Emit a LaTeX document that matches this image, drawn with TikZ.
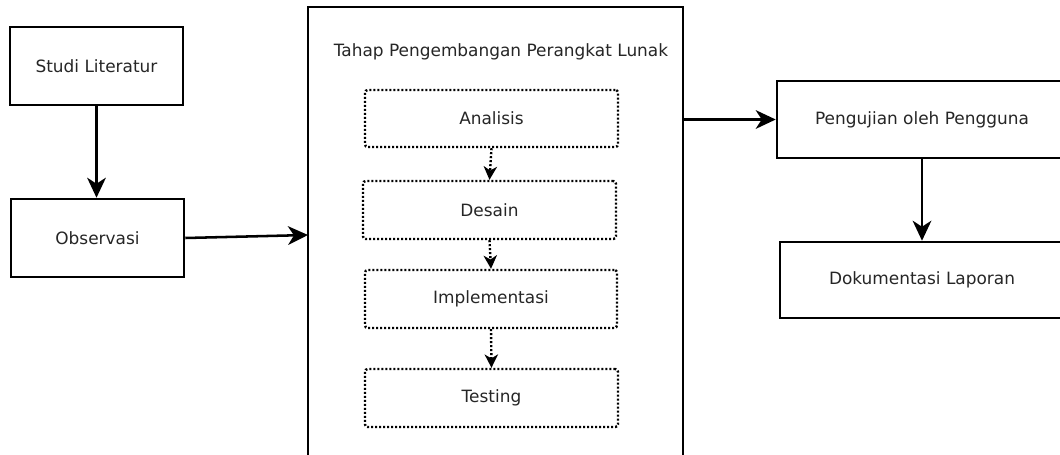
\documentclass[tikz,border=0pt]{standalone}
\usepackage{fontspec}
\setmainfont{DejaVu Sans}
\usetikzlibrary{arrows.meta}
\begin{document}
\begin{tikzpicture}[x=0.75pt,y=-0.75pt,
  lbl/.style={font=\fontsize{12.7}{15}\selectfont, text=black!85},
  box/.style={lbl, draw, line width=1.9pt, rectangle, inner sep=0pt},
  dbox/.style={lbl, draw, line width=1.8pt, dash pattern=on 1.5pt off 1.5pt, rounded corners=2pt, rectangle, inner sep=0pt},
  arr/.style={line width=1.9pt, -{Stealth[length=15pt,width=14pt,inset=4.5pt]}},
  darr/.style={line width=1.8pt, dash pattern=on 1.5pt off 1.5pt, -{Stealth[length=10pt,width=10pt,inset=3pt]}}
]
\useasboundingbox (0,0) rectangle (1060,454);
\clip (0,0) rectangle (1060,454);
\fill[white] (0,0) rectangle (1060,454);

\node[box, minimum width=129.75pt, minimum height=58.5pt] (studi) at (96.5,66) {Studi Literatur};
\node[box, minimum width=129.75pt, minimum height=58.5pt] (obs) at (97.5,238) {Observasi};

\node[box, minimum width=281.25pt, minimum height=347.25pt] (big) at (495.5,238.5) {};
\node[lbl] (title) at (501,52) {Tahap Pengembangan Perangkat Lunak};

\node[dbox, minimum width=189.75pt, minimum height=42.75pt] (ana) at (491.5,118.5) {Analisis};
\node[dbox, minimum width=189.75pt, minimum height=43.5pt] (des) at (489.5,210) {Desain};
\node[dbox, minimum width=189pt, minimum height=43.5pt] (imp) at (491,299) {Implementasi};
\node[dbox, minimum width=189.75pt, minimum height=43.5pt] (tes) at (491.5,398) {Testing};

\node[box, minimum width=217.5pt, minimum height=57.75pt] (peng) at (922,119.5) {Pengujian oleh Pengguna};
\node[box, minimum width=213pt, minimum height=57pt] (dok) at (922,280) {Dokumentasi Laporan};

\coordinate (bigin) at (308,235);

\draw[arr] (studi.south) -- (studi.south |- obs.north);
\draw[arr] (obs.east) -- (bigin);
\draw[arr] (big.east |- peng.west) -- (peng.west);
\draw[arr] (peng.south) -- (dok.north);

\draw[darr] (ana.south) -- (des.north);
\draw[darr] (des.south) -- (imp.north);
\draw[darr] (imp.south) -- (tes.north);
\end{tikzpicture}
\end{document}
